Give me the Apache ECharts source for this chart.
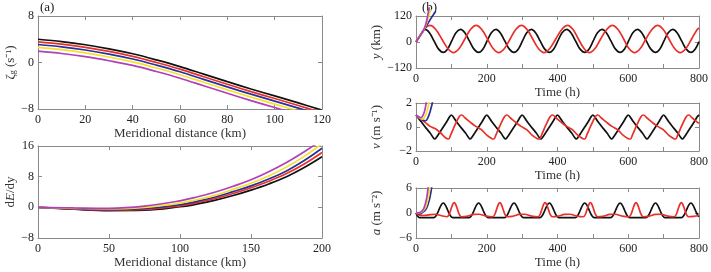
<!DOCTYPE html>
<html>
<head>
<meta charset="utf-8">
<script src="https://cdn.jsdelivr.net/npm/echarts@6/dist/echarts.min.js"></script>
<style>html,body{margin:0;padding:0;background:#fff}#c{width:711px;height:272px}</style>
</head>
<body>
<div id="c"></div>
<script>
// ---------- Panel (a) top: zeta_g vs meridional distance ----------
const aTopX = [0,10,20,30,40,50,60,70,80,90,100,110,120];
const aTopBlack   = [4.0,3.6,3.05,2.35,1.5,0.45,-0.7,-2.0,-3.3,-4.55,-5.75,-6.95,-8.2];
const aTopRed     = [3.55,3.15,2.6,1.9,1.05,0.0,-1.15,-2.45,-3.75,-5.0,-6.2,-7.4,-8.65];
const aTopBlue    = [3.1,2.7,2.15,1.45,0.6,-0.45,-1.6,-2.9,-4.2,-5.45,-6.65,-7.85,-9.1];
const aTopYellow  = [2.6,2.2,1.65,0.95,0.1,-0.95,-2.1,-3.4,-4.7,-5.95,-7.15,-8.35,-9.6];
const aTopMagenta = [1.95,1.55,1.0,0.3,-0.5,-1.55,-2.7,-4.0,-5.3,-6.55,-7.75,-8.95,-10.2];

// ---------- Panel (a) bottom: dE/dy vs meridional distance ----------
const aBotX = [0,25,50,75,100,112.5,125,137.5,150,162.5,175,187.5,200];
const aBotBlack   = [0,-0.5,-0.85,-0.75,0.15,0.9,1.9,3.1,4.5,6.1,8.0,10.4,13.2];
const aBotRed     = [0,-0.42,-0.7,-0.55,0.4,1.25,2.3,3.6,5.1,6.8,8.8,11.3,14.3];
const aBotBlue    = [0,-0.35,-0.55,-0.3,0.7,1.6,2.7,4.1,5.6,7.4,9.5,12.2,15.4];
const aBotYellow  = [0,-0.25,-0.4,0.0,1.1,2.05,3.2,4.7,6.3,8.2,10.5,13.3,16.6];
const aBotMagenta = [0,-0.15,-0.25,0.3,1.7,2.75,4.0,5.5,7.2,9.3,11.7,14.5,17.6];

// ---------- Panel (b): y (km) vs time (h) ----------
const bYBlack = [[0,0],[8,21],[16,41],[21,52],[26,58],[38,43],[51,5],[64,-33],[77,-48],[89,-33],[101,5],[113,43],
 [126,58],[138,43],[151,5],[164,-33],[177,-48],[189,-33],[201,5],[213,43],
 [226,58],[238,43],[251,5],[264,-33],[277,-48],[289,-33],[301,5],[313,43],
 [326,58],[338,43],[351,5],[364,-33],[377,-48],[389,-33],[401,5],[413,43],
 [426,58],[438,43],[451,5],[464,-33],[477,-48],[489,-33],[501,5],[513,43],
 [526,58],[538,43],[551,5],[564,-33],[577,-48],[589,-33],[601,5],[613,43],
 [626,58],[638,43],[651,5],[664,-33],[677,-48],[689,-33],[701,5],[713,43],
 [726,58],[738,43],[751,5],[764,-33],[777,-48],[789,-33],[800,2]];
const bYRed = [[0,0],[8,21],[16,41],[24,60],[32,72],[40,77],
 [56,58],[73,14],[90,-30],[106,-49],[122,-30],[138,14],[154,58],[170,77],
 [186,58],[202,14],[218,-30],[234,-49],[250,-30],[266,14],[282,58],[298,77],
 [314,58],[330,14],[346,-30],[362,-49],[378,-30],[395,14],[412,58],[428,77],
 [444,58],[459,14],[475,-30],[490,-49],[506,-30],[522,14],[539,58],[555,77],
 [571,58],[587,14],[602,-30],[618,-49],[634,-30],[650,14],[667,58],[683,77],
 [699,58],[715,14],[731,-30],[747,-49],[763,-30],[779,14],[795,58],[800,65]];
const bYBlue    = [[0,0],[8,20],[16,40],[22,55],[28,70],[35,90],[42,108],[47,121],[52,133],[56,142]];
const bYYellow  = [[0,0],[8,20],[16,40],[22,56],[28,78],[33,103],[37,125],[40,142],[42,152]];
const bYMagenta = [[0,0],[8,20],[16,40],[22,57],[27,78],[31,105],[34,130],[36,148],[38,160]];

// ---------- Panel (b): v (m s^-1) vs time (h) ----------
const bVBlack = [[0,1],[13,0.5],[26,0],[40,-0.5],[48,-0.85],[53,-1],[58,-0.85],[66,-0.5],[77,0],[88,0.5],[95,0.85],[100,1],[105,0.85],
 [113,0.5],[126,0],[140,-0.5],[148,-0.85],[153,-1],[158,-0.85],[166,-0.5],[177,0],[188,0.5],[195,0.85],[200,1],[205,0.85],
 [213,0.5],[226,0],[240,-0.5],[248,-0.85],[253,-1],[258,-0.85],[266,-0.5],[277,0],[288,0.5],[295,0.85],[300,1],[305,0.85],
 [313,0.5],[326,0],[340,-0.5],[348,-0.85],[353,-1],[358,-0.85],[366,-0.5],[377,0],[388,0.5],[395,0.85],[400,1],[405,0.85],
 [413,0.5],[426,0],[440,-0.5],[448,-0.85],[453,-1],[458,-0.85],[466,-0.5],[477,0],[488,0.5],[495,0.85],[500,1],[505,0.85],
 [513,0.5],[526,0],[540,-0.5],[548,-0.85],[553,-1],[558,-0.85],[566,-0.5],[577,0],[588,0.5],[595,0.85],[600,1],[605,0.85],
 [613,0.5],[626,0],[640,-0.5],[648,-0.85],[653,-1],[658,-0.85],[666,-0.5],[677,0],[688,0.5],[695,0.85],[700,1],[705,0.85],
 [713,0.5],[726,0],[740,-0.5],[748,-0.85],[753,-1],[758,-0.85],[766,-0.5],[777,0],[788,0.5],[795,0.85],[800,1]];
const bVRed = [[0,1],[10,0.75],[25,0.4],[40,0.05],[55,-0.15],[70,-0.5],[84,-0.92],[92,-1],[98,-0.65],[110,0.15],[122,0.85],[129,1],
 [139,0.75],[154,0.38],[169,0.05],[184,-0.2],[201,-0.7],[215,-0.97],[220,-1],[226,-0.65],[238,0.15],[250,0.85],[257,1],
 [267,0.75],[282,0.38],[297,0.05],[312,-0.2],[329,-0.7],[343,-0.97],[349,-1],[355,-0.65],[367,0.15],[379,0.85],[386,1],
 [396,0.75],[411,0.38],[426,0.05],[441,-0.2],[458,-0.7],[472,-0.97],[477,-1],[483,-0.65],[495,0.15],[507,0.85],[514,1],
 [524,0.75],[539,0.38],[554,0.05],[569,-0.2],[586,-0.7],[600,-0.97],[606,-1],[612,-0.65],[624,0.15],[636,0.85],[643,1],
 [653,0.75],[668,0.38],[683,0.05],[698,-0.2],[715,-0.7],[729,-0.97],[734,-1],[740,-0.65],[752,0.15],[764,0.85],[771,1],
 [781,0.75],[796,0.38],[800,0.3]];
const bVBlue    = [[0,1],[10,0.75],[20,0.56],[27,0.52],[34,0.8],[40,1.3],[45,1.85],[48,2.3]];
const bVYellow  = [[0,1],[8,0.8],[17,0.66],[24,0.8],[30,1.2],[35,1.75],[38,2.3]];
const bVMagenta = [[0,1],[5,0.88],[12,0.78],[18,0.88],[23,1.2],[27,1.7],[30,2.3]];

// ---------- Panel (b): a vs time (h) ----------
const bABlack = [[0,0],[4,-0.7],[10,-1.1],[50,-1.1],[57,-0.6],[64,0.6],[71,1.9],[77,2.4],[83,1.9],[90,0.6],[97,-0.6],[104,-1.1],
 [150,-1.1],[157,-0.6],[164,0.6],[171,1.9],[177,2.4],[183,1.9],[190,0.6],[197,-0.6],[204,-1.1],
 [250,-1.1],[257,-0.6],[264,0.6],[271,1.9],[277,2.4],[283,1.9],[290,0.6],[297,-0.6],[304,-1.1],
 [350,-1.1],[357,-0.6],[364,0.6],[371,1.9],[377,2.4],[383,1.9],[390,0.6],[397,-0.6],[404,-1.1],
 [450,-1.1],[457,-0.6],[464,0.6],[471,1.9],[477,2.4],[483,1.9],[490,0.6],[497,-0.6],[504,-1.1],
 [550,-1.1],[557,-0.6],[564,0.6],[571,1.9],[577,2.4],[583,1.9],[590,0.6],[597,-0.6],[604,-1.1],
 [650,-1.1],[657,-0.6],[664,0.6],[671,1.9],[677,2.4],[683,1.9],[690,0.6],[697,-0.6],[704,-1.1],
 [750,-1.1],[757,-0.6],[764,0.6],[771,1.9],[777,2.4],[783,1.9],[790,0.6],[797,-0.6],[800,-0.9]];
const bARed = [[0,0],[6,-0.4],[20,-0.6],[40,-0.4],[55,-0.3],[70,-0.6],[88,-0.9],
 [94,-0.3],[100,1.2],[104,2.1],[108,2.5],[112,2.1],[116,1.2],[122,-0.3],[128,-0.9],[143,-0.8],[163,-0.35],[178,-0.3],[198,-0.75],[217,-0.9],
 [223,-0.3],[229,1.2],[233,2.1],[237,2.5],[241,2.1],[245,1.2],[251,-0.3],[257,-0.9],[272,-0.8],[292,-0.35],[307,-0.3],[327,-0.75],[345,-0.9],
 [351,-0.3],[357,1.2],[361,2.1],[365,2.5],[369,2.1],[373,1.2],[379,-0.3],[385,-0.9],[400,-0.8],[420,-0.35],[435,-0.3],[455,-0.75],[473,-0.9],
 [479,-0.3],[485,1.2],[489,2.1],[493,2.5],[497,2.1],[501,1.2],[507,-0.3],[513,-0.9],[528,-0.8],[548,-0.35],[563,-0.3],[583,-0.75],[602,-0.9],
 [608,-0.3],[614,1.2],[618,2.1],[622,2.5],[626,2.1],[630,1.2],[636,-0.3],[642,-0.9],[657,-0.8],[677,-0.35],[692,-0.3],[712,-0.75],[730,-0.9],
 [736,-0.3],[742,1.2],[746,2.1],[750,2.5],[754,2.1],[758,1.2],[764,-0.3],[770,-0.9],[785,-0.8],[800,-0.6]];
const bABlue    = [[0,0],[10,-0.2],[20,0.2],[30,1.2],[38,3.2],[44,6],[47,8]];
const bAYellow  = [[0,0],[10,0],[20,0.5],[28,1.5],[34,3.5],[39,6],[42,8]];
const bAMagenta = [[0,0],[10,0.1],[20,0.8],[25,1.8],[30,3.5],[34,6],[37,8]];

// tick labels
const aTopXTicks = [0,20,40,60,80,100,120];
const aBotXTicks = [0,50,100,150,200];
const bXTicks = [0,200,400,600,800];

// ---------- styling / layout ----------
const C = {black:'#111111', red:'#e8302a', blue:'#2b2f9a', yellow:'#f2e22c', magenta:'#b33fb8'};
const FONT = 'Liberation Serif';
const AX = '#8a8a8a';
const grids = [
  {left:38, right:389, top:16, height:93},
  {left:38, right:389, top:146, height:92},
  {left:416, right:11, top:16, height:52},
  {left:416, right:11, top:103, height:48},
  {left:416, right:11, top:188, height:50}
];
const minus = v => String(v).replace('-', '\u2212');
const xAxes = [], yAxes = [];
function addAxes(gi, xmin, xmax, xint, xTicks, xName, xGap, ymin, ymax, yint, yName, yGap) {
  const common = {axisLine:{show:true, onZero:false, lineStyle:{color:AX, width:1}}, splitLine:{show:false},
    axisTick:{show:true, inside:true, length:4, lineStyle:{color:AX}}};
  xAxes.push(Object.assign({}, common, {gridIndex:gi, type:'value', min:xmin, max:xmax, interval:xint, position:'bottom',
    axisLabel:{show:true, formatter:v => (xTicks.indexOf(v) >= 0 ? String(v) : ''), color:'#222', fontFamily:FONT, fontSize:12, margin:5, hideOverlap:false},
    name:xName, nameLocation:'middle', nameGap:xGap,
    nameTextStyle:{fontFamily:FONT, fontSize:13, color:'#333'}}));
  xAxes.push(Object.assign({}, common, {gridIndex:gi, type:'value', min:xmin, max:xmax, interval:xint, position:'top',
    axisLabel:{show:false}}));
  yAxes.push(Object.assign({}, common, {gridIndex:gi, type:'value', min:ymin, max:ymax, interval:yint, position:'left',
    axisLabel:{show:true, formatter:v=>minus(v), color:'#222', fontFamily:FONT, fontSize:12, margin:4},
    name:yName, nameLocation:'middle', nameGap:yGap, nameRotate:90,
    nameTextStyle:{fontFamily:FONT, fontSize:13, color:'#333', rich:{
      i:{fontFamily:FONT, fontSize:13, fontStyle:'italic', color:'#333'},
      n:{fontFamily:FONT, fontSize:13, color:'#333'},
      s:{fontFamily:FONT, fontSize:8, color:'#333', padding:[6,0,0,0]}
    }}}));
  yAxes.push(Object.assign({}, common, {gridIndex:gi, type:'value', min:ymin, max:ymax, interval:yint, position:'right',
    axisLabel:{show:false}}));
}
addAxes(0, 0, 120, 20, aTopXTicks, 'Meridional distance (km)', 15, -8, 8, 8, '{n|\u03b6}{s|g}{n| (s\u207b\u00b9)}', 20);
addAxes(1, 0, 200, 50, aBotXTicks, 'Meridional distance (km)', 16, -8, 16, 8, '{n|d}{i|E}{n|/dy}', 20);
addAxes(2, 0, 800, 100, bXTicks, 'Time (h)', 15, -120, 120, 120, '{i|y}{n| (km)}', 33);
addAxes(3, 0, 800, 100, bXTicks, 'Time (h)', 15, -2, 2, 2, '{i|v}{n| (m s\u207b\u00b9)}', 33);
addAxes(4, 0, 800, 100, bXTicks, 'Time (h)', 15, -6, 6, 6, '{i|a}{n| (m s\u207b\u00b2)}', 33);

const series = [];
function line(gi, data, color, opts) {
  series.push(Object.assign({type:'line', xAxisIndex:gi*2, yAxisIndex:gi*2, data:data, showSymbol:false, symbol:'none',
    smooth:0.35, lineStyle:{color:color, width:1.7}, itemStyle:{color:color}, animation:false, silent:true}, opts||{}));
}
const zipXY = (xs, ys) => xs.map((x,i)=>[x, ys[i]]);
line(0, zipXY(aTopX, aTopMagenta), C.magenta);
line(0, zipXY(aTopX, aTopYellow), C.yellow);
line(0, zipXY(aTopX, aTopBlue), C.blue);
line(0, zipXY(aTopX, aTopRed), C.red);
line(0, zipXY(aTopX, aTopBlack), C.black);
line(1, zipXY(aBotX, aBotBlack), C.black, {smooth:0.4});
line(1, zipXY(aBotX, aBotRed), C.red, {smooth:0.4});
line(1, zipXY(aBotX, aBotBlue), C.blue, {smooth:0.4});
line(1, zipXY(aBotX, aBotYellow), C.yellow, {smooth:0.4});
line(1, zipXY(aBotX, aBotMagenta), C.magenta, {smooth:0.4});
line(2, bYBlack, C.black);
line(2, bYRed, C.red);
line(2, bYBlue, C.blue, {clip:false});
line(2, bYYellow, C.yellow, {clip:false});
line(2, bYMagenta, C.magenta, {clip:false});
line(3, bVBlack, C.black);
line(3, bVRed, C.red);
line(3, bVBlue, C.blue);
line(3, bVYellow, C.yellow);
line(3, bVMagenta, C.magenta);
line(4, bABlack, C.black);
line(4, bARed, C.red);
line(4, bABlue, C.blue);
line(4, bAYellow, C.yellow);
line(4, bAMagenta, C.magenta);

const chart = echarts.init(document.getElementById('c'), null, {renderer:'canvas'});
chart.setOption({
  animation:false,
  backgroundColor:'#fff',
  grid: grids,
  xAxis: xAxes,
  yAxis: yAxes,
  series: series,
  graphic: [
    {type:'text', left:40, top:1, style:{text:'(a)', font:'13px "Liberation Serif"', fill:'#222'}},
    {type:'text', left:422, top:1, style:{text:'(b)', font:'13px "Liberation Serif"', fill:'#222'}}
  ]
});
</script>
</body>
</html>
